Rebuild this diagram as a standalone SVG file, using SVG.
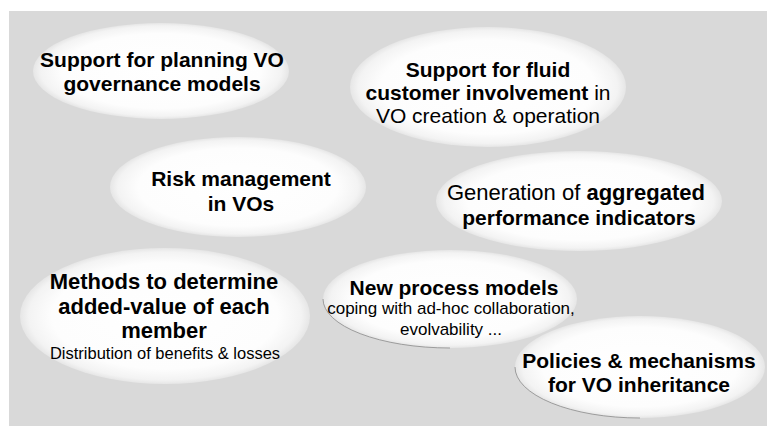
<svg xmlns="http://www.w3.org/2000/svg" width="767" height="426" viewBox="0 0 767 426">
<style>
  .bg { fill: #d9d9d9; }
  .ell { fill: url(#soft); }
  .edge { fill: none; stroke: #8a8a8a; stroke-width: 0.8; }
  text { font-family: "Liberation Sans", Arial, sans-serif; fill: #000; text-anchor: middle; }
  .b { font-weight: bold; font-size: 21px; }
  .r { font-weight: normal; font-size: 21px; }
  .s { font-weight: normal; font-size: 17px; }
  .bw { font-weight: bold; }
</style>
<defs>
  <radialGradient id="soft" cx="0.5" cy="0.5" r="0.5">
    <stop offset="0" stop-color="#ffffff"/>
    <stop offset="0.78" stop-color="#fdfdfd"/>
    <stop offset="0.94" stop-color="#f3f3f3"/>
    <stop offset="1" stop-color="#e6e6e6"/>
  </radialGradient>
</defs>
<rect width="767" height="426" fill="#ffffff"/>
<rect class="bg" x="9" y="11" width="758" height="415"/>
<g id="connectors"></g>
<g id="n1">
  <ellipse class="ell" cx="161" cy="71" rx="128" ry="48"/>
  <text class="b" x="162" y="67">Support for planning VO</text>
  <text class="b" x="162" y="91">governance models</text>
</g>
<g id="n2">
  <ellipse class="ell" cx="488" cy="87" rx="138" ry="60"/>
  <text class="b" x="488" y="77">Support for fluid</text>
  <text class="r" x="488" y="100"><tspan class="bw">customer involvement</tspan> in</text>
  <text class="r" x="488" y="123">VO creation &amp; operation</text>
</g>
<g id="n3">
  <ellipse class="ell" cx="238" cy="187" rx="128" ry="50"/>
  <text class="b" x="241" y="186">Risk management</text>
  <text class="b" x="241" y="211">in VOs</text>
</g>
<g id="n4">
  <ellipse class="ell" cx="579" cy="201" rx="143" ry="50"/>
  <text class="r" x="576" y="200" style="font-size:22px">Generation of <tspan class="bw">aggregated</tspan></text>
  <text class="b" x="579" y="225">performance indicators</text>
</g>
<g id="n5">
  <ellipse class="ell" cx="165" cy="316" rx="145" ry="68"/>
  <text class="b" x="164" y="289" style="font-size:22px">Methods to determine</text>
  <text class="b" x="164" y="314" style="font-size:22px">added-value of each</text>
  <text class="b" x="164" y="338" style="font-size:22px">member</text>
  <text class="s" x="165" y="359" style="font-size:16.5px">Distribution of benefits &amp; losses</text>
</g>
<g id="n6">
  <ellipse class="ell" cx="450" cy="299" rx="127" ry="49"/>
  <path class="edge" d="M 323 299 A 127 49 0 0 0 450 348"/>
  <text class="b" x="454" y="295">New process models</text>
  <text class="s" x="451" y="314">coping with ad-hoc collaboration,</text>
  <text class="s" x="451" y="335">evolvability ...</text>
</g>
<g id="n7">
  <ellipse class="ell" cx="640" cy="367" rx="125" ry="51"/>
  <path class="edge" d="M 515 367 A 125 51 0 0 0 640 418"/>
  <text class="b" x="639" y="368">Policies &amp; mechanisms</text>
  <text class="b" x="639" y="392">for VO inheritance</text>
</g>
</svg>
